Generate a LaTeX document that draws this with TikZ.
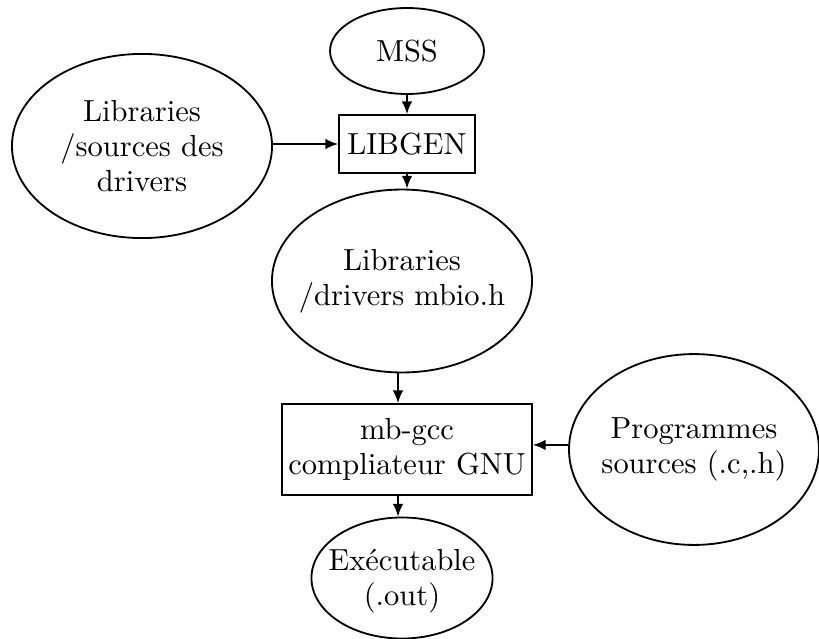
\documentclass[tikz,border=0pt]{standalone}
\usetikzlibrary{shapes.geometric,arrows.meta}
\begin{document}
\begin{tikzpicture}[x=0.328pt,y=-0.328pt,
  every node/.style={font=\fontsize{10}{11.5}\selectfont, align=center, inner sep=0pt},
  ell/.style={draw, ellipse, line width=0.6pt},
  boxnode/.style={draw, rectangle, line width=0.6pt},
  arr/.style={line width=0.6pt, -{Latex[length=4.2pt,width=3.5pt]}}]
  \useasboundingbox (0,0) rectangle (819,639);

  % shapes
  \node[ell, minimum width=50.5pt, minimum height=28.2pt] (mss) at (407,51) {};
  \node[boxnode, minimum width=44.6pt, minimum height=19pt] (libgen) at (407,144) {};
  \node[ell, minimum width=85.3pt, minimum height=60.4pt] (libsrc) at (142,146) {};
  \node[ell, minimum width=85.3pt, minimum height=60pt] (mbio) at (402,281) {};
  \node[boxnode, minimum width=82pt, minimum height=29.8pt] (gcc) at (407,449.5) {};
  \node[ell, minimum width=82pt, minimum height=62.6pt] (prog) at (694,449.5) {};
  \node[ell, minimum width=59.4pt, minimum height=39.7pt] (exe) at (402,578) {};

  % labels
  \node (mss-t) at (mss) {MSS};
  \node (libgen-t) at (libgen) {LIBGEN};
  \node (libsrc-t) at (libsrc) {Libraries\\/sources des\\drivers};
  \node (mbio-t) at (mbio) {Libraries\\/drivers mbio.h};
  \node (gcc-t) at (gcc) {mb-gcc\\compliateur GNU};
  \node (prog-t) at (prog) {Programmes\\sources (.c,.h)};
  \node (exe-t) at ([yshift=-1pt]exe) {Ex\'ecutable\\(.out)};

  \coordinate (axis) at (398,0);

  % connectors
  \draw[arr] (mss.south) -- (libgen.north);
  \draw[arr] (libgen.west -| libsrc.east) -- (libgen.west);
  \draw[arr] (libgen.south) -- (libgen.south |- mbio.north);
  \draw[arr] (mbio.south -| axis) -- (gcc.north -| axis);
  \draw[arr] ([yshift=1.5pt]prog.west) -- ([yshift=1.5pt]prog.west -| gcc.east);
  \draw[arr] (gcc.south -| axis) -- (exe.north -| axis);
\end{tikzpicture}
\end{document}
